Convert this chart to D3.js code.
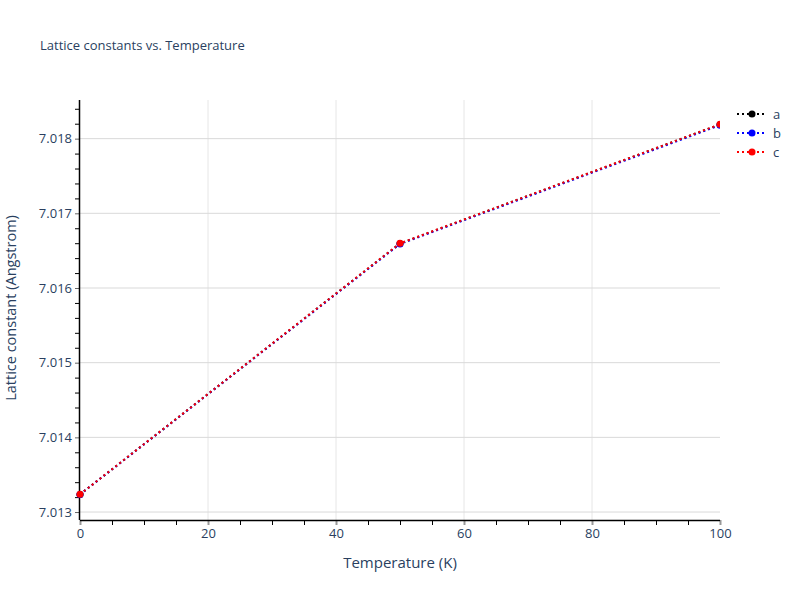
<!DOCTYPE html>
<html>
<head>
<meta charset="utf-8">
<script src="https://cdn.jsdelivr.net/npm/d3@7"></script>
<style>
  body { margin: 0; background: #fff; }
  text { font-family: "Open Sans", "Noto Sans", sans-serif; fill: #2a3f5f; }
</style>
</head>
<body>
<div class="chart"></div>
<script>
// values
var temperatures = [0, 50, 100];
var seriesA = [7.013236, 7.016596, 7.018190];
var seriesB = [7.013236, 7.016590, 7.018180];
var seriesC = [7.013237, 7.016598, 7.018192];
var seriesNames = ["a", "b", "c"];
var seriesColors = ["black", "blue", "red"];
var xTicks = [0, 20, 40, 60, 80, 100];
var yTicks = [7.013, 7.014, 7.015, 7.016, 7.017, 7.018];

var svgWidth = 800;
var svgHeight = 600;

var margin = { top: 100, right: 80, bottom: 80, left: 80 };
var width = svgWidth - margin.left - margin.right;
var height = svgHeight - margin.top - margin.bottom;

var svg = d3.select(".chart")
  .append("svg")
  .attr("width", svgWidth)
  .attr("height", svgHeight);

var chartGroup = svg.append("g")
  .attr("transform", `translate(${margin.left}, ${margin.top})`);

var xScale = d3.scaleLinear().domain([0, 100]).range([0, width]);
var yScale = d3.scaleLinear().domain([7.0128935, 7.0185175]).range([height, 0]);

// gridlines
chartGroup.selectAll(".vgrid")
  .data(xTicks.slice(1, -1))
  .enter().append("line")
  .attr("x1", d => xScale(d)).attr("x2", d => xScale(d))
  .attr("y1", 0).attr("y2", height)
  .attr("stroke", "#e6e6e6").attr("stroke-width", 1);

chartGroup.selectAll(".hgrid")
  .data(yTicks)
  .enter().append("line")
  .attr("x1", 0).attr("x2", width)
  .attr("y1", d => yScale(d)).attr("y2", d => yScale(d))
  .attr("stroke", "#d9d9d9").attr("stroke-width", 1);

// minor ticks
var xMinor = d3.range(0, 101, 5).filter(d => d % 20 !== 0);
var yMinor = d3.range(7.0130, 7.0185, 0.0002).filter(function(d) {
  return !yTicks.some(t => Math.abs(t - d) < 1e-7);
});

chartGroup.append("g")
  .attr("transform", `translate(0, ${height})`)
  .call(d3.axisBottom(xScale).tickValues(xMinor).tickSize(5).tickFormat(""))
  .call(g => g.select(".domain").remove())
  .selectAll("line").attr("stroke", "black");

chartGroup.append("g")
  .call(d3.axisLeft(yScale).tickValues(yMinor).tickSize(5).tickFormat(""))
  .call(g => g.select(".domain").remove())
  .selectAll("line").attr("stroke", "black");

// major axes
var bottomAxis = d3.axisBottom(xScale).tickValues(xTicks).tickSize(5).tickPadding(4);
var leftAxis = d3.axisLeft(yScale).tickValues(yTicks).tickSize(5).tickPadding(3)
  .tickFormat(d3.format(".3f"));

var xAxisG = chartGroup.append("g")
  .attr("transform", `translate(0, ${height})`)
  .call(bottomAxis);
xAxisG.select(".domain").remove();
xAxisG.selectAll("line").attr("stroke", "#999").attr("stroke-width", 2);
xAxisG.selectAll("text").attr("font-size", 13).style("fill", "#2a3f5f");

var yAxisG = chartGroup.append("g").call(leftAxis);
yAxisG.select(".domain").remove();
yAxisG.selectAll("line").attr("stroke", "#666").attr("stroke-width", 1);
yAxisG.selectAll("text").attr("font-size", 13).style("fill", "#2a3f5f");

// axis lines
chartGroup.append("line")
  .attr("x1", 0).attr("x2", width).attr("y1", height + 0.5).attr("y2", height + 0.5)
  .attr("stroke", "black").attr("stroke-width", 1.5);
chartGroup.append("line")
  .attr("x1", -0.5).attr("x2", -0.5).attr("y1", 0).attr("y2", height)
  .attr("stroke", "black").attr("stroke-width", 1.5);

// series
var allSeries = [seriesA, seriesB, seriesC].map(function(vals, i) {
  return {
    name: seriesNames[i],
    color: seriesColors[i],
    points: temperatures.map((t, j) => ({ x: t, y: vals[j] }))
  };
});

var line = d3.line().x(d => xScale(d.x)).y(d => yScale(d.y));

svg.append("defs").append("clipPath").attr("id", "plotclip")
  .append("rect").attr("x", -5).attr("y", -5).attr("width", width + 5).attr("height", height + 5);

var seriesGroup = chartGroup.append("g").attr("clip-path", "url(#plotclip)");

allSeries.forEach(function(s) {
  seriesGroup.append("path")
    .datum(s.points)
    .attr("d", line)
    .attr("fill", "none")
    .attr("stroke", s.color)
    .attr("stroke-width", 2)
    .attr("stroke-dasharray", "2,3");

  seriesGroup.selectAll(".pt-" + s.name)
    .data(s.points)
    .enter().append("circle")
    .attr("cx", d => xScale(d.x))
    .attr("cy", d => yScale(d.y))
    .attr("r", 3.5)
    .attr("fill", s.color);
});

// title
svg.append("text")
  .attr("x", 40).attr("y", 50)
  .attr("font-size", 13)
  .text("Lattice constants vs. Temperature");

// axis titles
svg.append("text")
  .attr("x", margin.left + width / 2).attr("y", 568)
  .attr("text-anchor", "middle")
  .attr("font-size", 15)
  .text("Temperature (K)");

svg.append("text")
  .attr("transform", `translate(16, ${margin.top + height / 2 - 2}) rotate(-90)`)
  .attr("text-anchor", "middle")
  .attr("font-size", 14.5)
  .text("Lattice constant (Angstrom)");

// legend
var legend = svg.append("g").attr("transform", "translate(737, 114)");
allSeries.forEach(function(s, i) {
  var item = legend.append("g").attr("transform", `translate(0, ${i * 19})`);
  item.append("line")
    .attr("x1", 0).attr("x2", 30).attr("y1", 0).attr("y2", 0)
    .attr("stroke", s.color).attr("stroke-width", 2)
    .attr("stroke-dasharray", "2,3");
  item.append("circle").attr("cx", 15).attr("cy", 0).attr("r", 3.5).attr("fill", s.color);
  item.append("text").attr("x", 36).attr("y", 4.5).attr("font-size", 13).text(s.name);
});
</script>
</body>
</html>
